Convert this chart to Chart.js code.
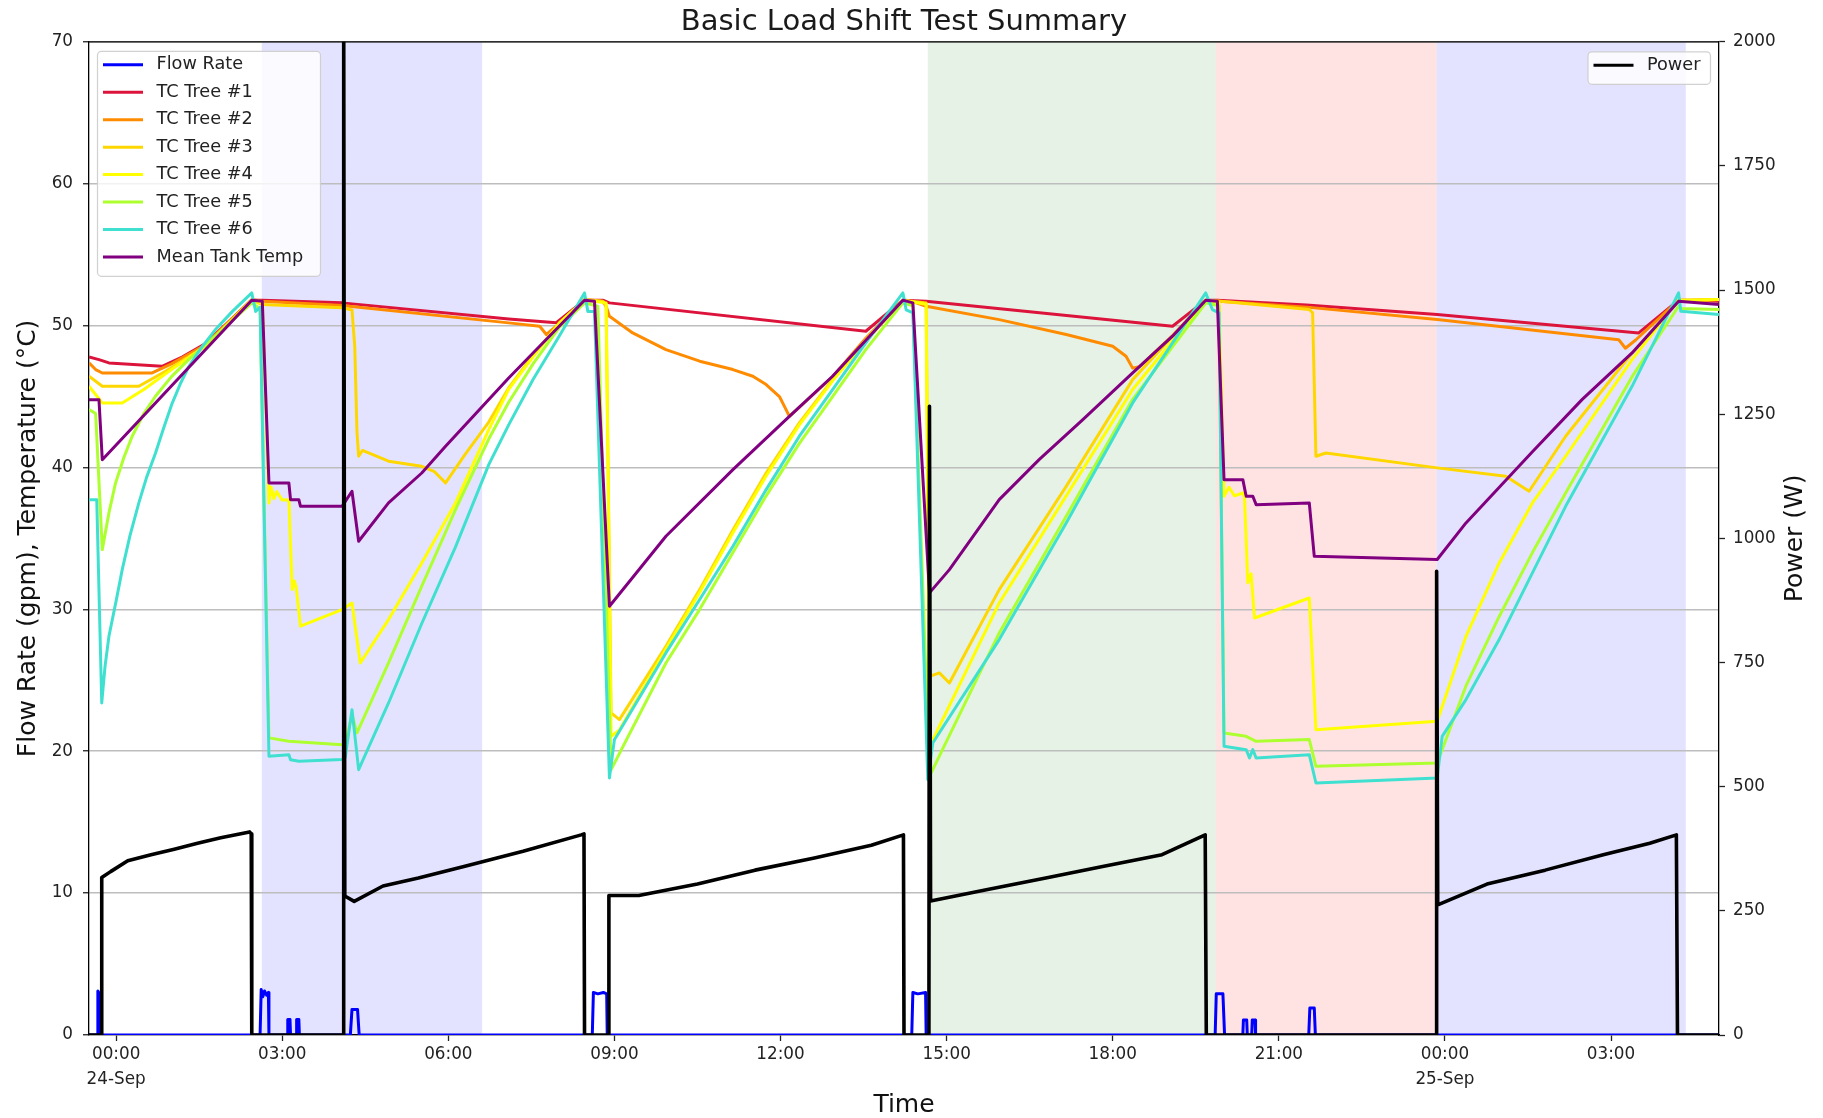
<!DOCTYPE html>
<html>
<head>
<meta charset="utf-8">
<title>Basic Load Shift Test Summary</title>
<script src="https://cdn.jsdelivr.net/npm/chart.js@4.4.1/dist/chart.umd.min.js"></script>
<style>
  html, body { margin: 0; padding: 0; background: #fff; }
  #wrap { width: 1823px; height: 1118px; }
</style>
</head>
<body>
<div id="wrap"><canvas id="chart" width="1823" height="1118"></canvas></div>
<script>
// ── Data (x = hours after 24-Sep 00:00) ──
const xTickVals   = [0, 3, 6, 9, 12, 15, 18, 21, 24, 27];
const xTickLabels = [["00:00", "24-Sep"], "03:00", "06:00", "09:00", "12:00", "15:00", "18:00", "21:00", ["00:00", "25-Sep"], "03:00"];

// shaded test periods
const spanStart = [2.63, 14.66, 19.86, 23.85];
const spanEnd   = [6.61, 19.86, 23.85, 28.35];
const spanColor = ["rgba(0,0,255,0.11)", "rgba(0,128,0,0.10)", "rgba(255,0,0,0.11)", "rgba(0,0,255,0.11)"];

const flowRate = [
  [-0.49,0],[-0.34,0],[-0.33,3.1],[-0.30,2.9],[-0.29,0],
  [2.60,0],[2.62,3.2],[2.65,2.7],[2.68,3.1],[2.72,2.8],[2.75,3.0],[2.76,0],
  [3.09,0],[3.10,1.1],[3.14,1.1],[3.15,0],
  [3.25,0],[3.26,1.1],[3.30,1.1],[3.31,0],
  [4.23,0],[4.26,1.8],[4.36,1.8],[4.39,0],
  [8.60,0],[8.62,3.0],[8.70,2.9],[8.80,3.0],[8.86,2.9],[8.87,0],
  [14.37,0],[14.39,3.0],[14.48,2.9],[14.62,3.0],[14.63,0],
  [19.85,0],[19.87,2.9],[19.99,2.9],[20.02,0],
  [20.35,0],[20.36,1.05],[20.42,1.05],[20.43,0],
  [20.51,0],[20.52,1.05],[20.57,1.05],[20.58,0],
  [21.54,0],[21.56,1.9],[21.64,1.9],[21.66,0],
  [28.95,0]
];

const tcTree1 = [
  [-0.49,47.79],[-0.31,47.6],[-0.13,47.37],[0.83,47.13],[1.2,47.8],[1.6,48.7],[2.45,51.79],
  [2.64,51.79],[4.08,51.6],[7.09,50.47],[7.95,50.2],[8.46,51.79],
  [8.79,51.79],[8.91,51.6],[13.54,49.6],[14.21,51.79],
  [14.63,51.72],[19.08,49.95],[19.68,51.79],
  [19.89,51.79],[21.5,51.45],[23.86,50.78],[27.50,49.48],[28.22,51.79],[28.95,51.71]
];

const tcTree2 = [
  [-0.49,47.37],[-0.37,46.9],[-0.25,46.66],[0.65,46.66],[1.0,47.3],[1.6,48.6],[2.45,51.83],
  [2.64,51.72],[4.08,51.41],[7.09,50.19],[7.65,49.95],[7.77,49.37],[7.95,49.95],[8.46,51.83],
  [8.79,51.7],[8.85,51.36],[8.91,50.66],[9.33,49.48],[9.93,48.31],[10.54,47.49],[11.14,46.9],[11.50,46.43],[11.74,45.84],[11.98,45.0],[12.10,44.08],[12.16,43.6],[12.94,46.4],[13.54,49.1],[14.21,51.79],
  [14.45,51.6],[14.63,51.36],[15.95,50.42],[17.16,49.37],[18.0,48.54],[18.24,47.84],[18.36,47.0],[18.48,47.1],[19.08,49.3],[19.68,51.79],
  [19.92,51.72],[21.5,51.3],[23.86,50.42],[27.14,49.0],[27.26,48.4],[27.45,49.0],[28.22,51.79],[28.95,51.83]
];

const tcTree3 = [
  [-0.49,46.43],[-0.25,45.72],[0.41,45.72],[0.9,46.8],[1.6,48.5],[2.45,51.79],
  [2.64,51.48],[4.08,51.25],[4.26,51.1],[4.31,48.5],[4.35,42.5],[4.38,40.79],[4.45,41.2],[4.92,40.44],[5.52,40.08],[5.75,39.7],[5.95,38.91],[6.3,40.9],[6.73,43.2],[7.09,45.6],[7.53,47.9],[8.01,50.2],[8.46,51.83],
  [8.79,51.72],[8.85,51.4],[8.94,22.7],[9.09,22.23],[9.93,27.4],[10.54,31.39],[11.14,35.6],[11.74,39.61],[12.34,43.14],[12.94,46.19],[13.54,49.01],[14.21,51.79],
  [14.63,51.6],[14.69,25.28],[14.87,25.52],[15.05,24.81],[15.95,31.39],[17.16,38.67],[18.36,46.19],[19.68,51.79],
  [19.95,51.72],[21.55,51.13],[21.61,50.9],[21.67,40.79],[21.85,41.02],[23.86,39.97],[25.10,39.38],[25.52,38.32],[26.18,42.2],[27.38,48.07],[28.22,51.72],[28.95,51.83]
];

const tcTree4 = [
  [-0.49,45.72],[-0.25,44.55],[0.11,44.55],[0.5,45.5],[1.0,46.9],[1.6,48.5],[2.45,51.72],
  [2.64,51.6],[2.70,45.0],[2.76,37.5],[2.80,38.6],[2.85,37.8],[2.90,38.3],[3.00,37.7],[3.12,37.73],[3.18,31.39],[3.22,32.0],[3.25,31.6],[3.33,28.81],[4.08,29.98],[4.26,30.45],[4.41,26.22],[4.92,29.28],[5.52,33.27],[6.13,37.5],[6.73,42.67],[7.09,45.5],[7.53,47.8],[8.01,50.2],[8.46,51.79],
  [8.85,51.6],[8.94,21.05],[9.09,21.5],[9.93,27.2],[10.54,31.2],[11.14,35.4],[11.74,39.4],[12.34,43.0],[12.94,46.1],[13.54,48.9],[14.21,51.79],
  [14.63,51.5],[14.69,21.05],[14.75,20.8],[15.95,30.45],[17.16,38.0],[18.36,45.49],[19.68,51.79],
  [19.92,51.6],[20.01,37.97],[20.10,38.6],[20.20,38.0],[20.35,38.2],[20.38,37.9],[20.44,31.86],[20.50,32.5],[20.56,29.39],[21.55,30.8],[21.67,21.52],[23.86,22.11],[24.38,28.1],[24.98,33.27],[25.58,37.5],[26.18,40.79],[27.38,47.6],[28.22,51.79],[28.95,51.83]
];

const tcTree5 = [
  [-0.49,44.08],[-0.37,43.8],[-0.25,34.21],[-0.13,36.8],[-0.01,38.91],[0.14,40.7],[0.29,42.2],[0.5,43.8],[0.71,45.02],[1.0,46.4],[1.31,47.6],[1.8,49.3],[2.45,51.6],
  [2.60,51.2],[2.76,20.94],[3.12,20.7],[4.08,20.46],[4.14,20.5],[4.26,22.6],[4.35,21.3],[4.92,26.22],[5.52,31.63],[6.13,37.03],[6.73,42.0],[7.09,44.6],[7.53,47.3],[8.01,49.9],[8.46,51.6],
  [8.70,51.36],[8.94,18.7],[9.93,26.22],[10.54,30.0],[11.14,34.0],[11.74,38.0],[12.34,41.7],[12.94,45.0],[13.54,48.3],[14.21,51.6],
  [14.39,51.4],[14.69,18.23],[15.95,28.34],[17.16,36.56],[18.36,44.8],[19.68,51.6],
  [19.92,51.4],[20.01,21.29],[20.41,21.05],[20.59,20.7],[21.55,20.82],[21.67,18.94],[23.86,19.17],[24.38,24.6],[24.98,29.5],[25.58,34.0],[26.18,38.2],[27.38,46.4],[28.22,51.36],[28.26,51.2],[28.95,51.13]
];

const tcTree6 = [
  [-0.49,37.73],[-0.35,37.73],[-0.26,23.4],[-0.2,26.0],[-0.13,28.1],[0.0,30.6],[0.11,32.8],[0.25,35.2],[0.41,37.5],[0.55,39.3],[0.71,41.0],[0.86,42.8],[1.01,44.5],[1.16,45.9],[1.31,47.1],[1.55,48.5],[1.79,49.7],[2.1,51.0],[2.45,52.3],
  [2.52,51.0],[2.60,51.3],[2.76,19.64],[3.12,19.76],[3.15,19.4],[3.30,19.3],[4.08,19.41],[4.14,19.6],[4.26,22.93],[4.38,18.7],[4.92,23.4],[5.52,29.0],[6.13,34.4],[6.73,40.2],[7.09,43.0],[7.53,46.2],[8.01,49.3],[8.46,52.3],
  [8.52,51.0],[8.64,51.0],[8.91,18.12],[9.00,20.82],[9.93,26.93],[10.54,30.69],[11.14,34.45],[11.74,38.44],[12.34,42.2],[12.94,45.49],[13.54,48.78],[14.21,52.3],
  [14.27,51.1],[14.39,50.9],[14.66,18.0],[14.75,20.58],[15.95,27.87],[17.16,36.09],[18.36,44.55],[19.68,52.3],
  [19.80,51.13],[19.92,50.9],[20.01,20.35],[20.41,20.11],[20.47,19.52],[20.53,20.11],[20.59,19.52],[21.55,19.76],[21.67,17.76],[23.86,18.12],[23.95,21.05],[24.38,23.64],[24.98,27.87],[25.58,32.57],[26.18,37.26],[27.38,45.72],[28.22,52.3],[28.26,51.01],[28.95,50.78]
];

const meanTank = [
  [-0.49,44.78],[-0.31,44.78],[-0.25,40.55],[2.45,51.79],[2.64,51.72],[2.76,38.91],[3.12,38.91],[3.15,37.73],[3.30,37.73],[3.33,37.26],[4.08,37.26],[4.26,38.32],[4.38,34.8],[4.92,37.5],[5.52,39.61],[5.95,41.49],[7.09,46.3],[8.46,51.79],
  [8.64,51.72],[8.91,30.22],[9.93,35.15],[11.14,39.85],[12.16,43.6],[12.94,46.43],[14.21,51.79],
  [14.39,51.6],[14.69,31.16],[15.05,32.8],[15.95,37.73],[16.67,40.55],[17.46,43.37],[18.36,46.66],[19.08,49.25],[19.68,51.79],
  [19.89,51.72],[20.01,39.14],[20.35,39.14],[20.41,37.97],[20.53,37.97],[20.59,37.38],[21.55,37.5],[21.64,33.74],[23.86,33.51],[24.38,36.09],[25.58,41.1],[26.48,44.8],[27.38,48.07],[28.22,51.72],[28.95,51.48]
];

const power = [
  [-0.49,0],[-0.27,0],[-0.26,317],[-0.10,329],[0.21,351],[0.63,363],[1.05,374],[1.47,386],[1.89,397],[2.41,409],[2.44,405],[2.45,0],
  [4.10,0],[4.11,2100],[4.13,280],[4.30,269],[4.82,300],[5.46,316],[6.30,340],[7.35,370],[8.40,403],[8.45,405],[8.46,0],
  [8.89,0],[8.90,281],[9.44,281],[10.50,304],[11.54,332],[12.59,356],[13.64,382],[14.22,403],[14.23,0],
  [14.68,0],[14.69,1266],[14.71,270],[15.74,293],[16.79,316],[17.84,340],[18.89,363],[19.67,403],[19.69,0],
  [23.84,0],[23.85,934],[23.87,262],[24.76,304],[25.81,332],[26.86,363],[27.70,386],[28.18,403],[28.20,0],
  [28.95,0]
];

// ── Helpers ──
const FONT = "'DejaVu Sans', sans-serif";
const pts = arr => arr.map(([x, y]) => ({ x, y }));

function series(label, data, color, order, axis, width) {
  return {
    label, data: pts(data), borderColor: color, backgroundColor: color,
    borderWidth: width || 3, pointRadius: 0, tension: 0, order,
    yAxisID: axis || "y", borderJoinStyle: "round", fill: false
  };
}

// ── Plugins ──
const spansPlugin = {
  id: "spans",
  beforeDraw(chart) {
    const { ctx, chartArea: a, scales: { x } } = chart;
    ctx.save();
    for (let i = 0; i < spanStart.length; i++) {
      const x0 = x.getPixelForValue(spanStart[i]);
      const x1 = x.getPixelForValue(spanEnd[i]);
      ctx.fillStyle = spanColor[i];
      ctx.fillRect(x0, a.top, x1 - x0, a.bottom - a.top);
    }
    ctx.restore();
  }
};

function drawLegendBox(ctx, sets, left, top, w, h) {
  ctx.save();
  ctx.beginPath();
  ctx.roundRect(left, top, w, h, 4);
  ctx.fillStyle = "rgba(255,255,255,0.8)";
  ctx.fill();
  ctx.strokeStyle = "rgba(204,204,204,0.9)";
  ctx.lineWidth = 1.2;
  ctx.stroke();
  ctx.font = "17.7px " + FONT;
  ctx.textBaseline = "middle";
  ctx.fillStyle = "#222";
  sets.forEach((d, i) => {
    const y = top + 13.5 + i * 27.45;
    ctx.beginPath();
    ctx.moveTo(left + 5.5, y);
    ctx.lineTo(left + 45.5, y);
    ctx.strokeStyle = d.borderColor;
    ctx.lineWidth = 3;
    ctx.stroke();
    ctx.fillText(d.label, left + 59, y);
  });
  ctx.restore();
}

const framePlugin = {
  id: "frame",
  afterDraw(chart) {
    const { ctx, chartArea: a } = chart;
    ctx.save();
    ctx.strokeStyle = "#000";
    ctx.lineWidth = 1.3;
    ctx.beginPath();
    ctx.moveTo(a.left, a.top);
    ctx.lineTo(a.right, a.top);
    ctx.stroke();

    // right axis label, reading bottom-to-top like matplotlib
    ctx.translate(1795, (a.top + a.bottom) / 2);
    ctx.rotate(-Math.PI / 2);
    ctx.font = "25px " + FONT;
    ctx.fillStyle = "#111";
    ctx.textAlign = "center";
    ctx.textBaseline = "middle";
    ctx.fillText("Power (W)", 0, 0);
    ctx.restore();

    const sets = chart.data.datasets;
    const leftSets = sets.filter(d => d.yAxisID === "y");
    const rightSets = sets.filter(d => d.yAxisID === "y1");
    drawLegendBox(ctx, leftSets, a.left + 8.5, a.top + 9.5, 223, 225);
    drawLegendBox(ctx, rightSets, a.right - 131, a.top + 10, 122.5, 32.5);
  }
};

// ── Chart ──
Chart.defaults.font.family = FONT;

const tickFont = { family: FONT, size: 16.8 };

new Chart(document.getElementById("chart"), {
  type: "line",
  data: {
    datasets: [
      series("Flow Rate", flowRate, "#0000ff", 8),
      series("TC Tree #1", tcTree1, "#dc143c", 7),
      series("TC Tree #2", tcTree2, "#ff8c00", 6),
      series("TC Tree #3", tcTree3, "#ffd700", 5),
      series("TC Tree #4", tcTree4, "#ffff00", 4),
      series("TC Tree #5", tcTree5, "#adff2f", 3),
      series("TC Tree #6", tcTree6, "#40e0d0", 2),
      series("Mean Tank Temp", meanTank, "#800080", 1),
      series("Power", power, "#000000", 0, "y1", 3.6)
    ]
  },
  options: {
    responsive: false, animation: false, devicePixelRatio: 1,
    layout: { padding: 0 },
    plugins: {
      legend: { display: false },
      tooltip: { enabled: false },
      title: {
        display: true, fullSize: false,
        text: "Basic Load Shift Test Summary",
        color: "#1a1a1a",
        font: { family: FONT, size: 29, weight: "normal" },
        padding: { top: 5, bottom: 2 }
      }
    },
    scales: {
      x: {
        type: "linear", position: "bottom",
        min: -0.49, max: 28.95,
        afterBuildTicks: s => { s.ticks = xTickVals.map(v => ({ value: v })); },
        afterFit: s => { s.height = 83; },
        ticks: {
          autoSkip: false, maxRotation: 0, padding: 1, color: "#222",
          font: { family: FONT, size: 16.8, lineHeight: 1.5 },
          callback: v => { const i = xTickVals.indexOf(v); return i >= 0 ? xTickLabels[i] : ""; }
        },
        grid: { drawOnChartArea: false, drawTicks: true, tickLength: 6, tickColor: "#222", tickWidth: 1.3 },
        border: { display: true, color: "#000", width: 1.3 },
        title: { display: true, text: "Time", color: "#111", font: { family: FONT, size: 25, lineHeight: 1.0 }, padding: { top: 0, bottom: 0 } }
      },
      y: {
        position: "left", min: 0, max: 70,
        afterFit: s => { s.width = 89; },
        ticks: { stepSize: 10, padding: 10, color: "#222", font: tickFont },
        grid: { color: "#bdbdbd", lineWidth: 1.5, drawTicks: true, tickLength: 6, tickColor: "#222", tickWidth: 1.3 },
        border: { display: true, color: "#000", width: 1.3 },
        title: { display: true, text: "Flow Rate (gpm), Temperature (°C)", color: "#111", font: { family: FONT, size: 25 }, padding: { top: 13, bottom: 0 } }
      },
      y1: {
        position: "right", min: 0, max: 2000,
        afterFit: s => { s.width = 104; },
        ticks: { stepSize: 250, padding: 8, color: "#222", font: tickFont, callback: v => String(v) },
        grid: { drawOnChartArea: false, drawTicks: true, tickLength: 6, tickColor: "#222", tickWidth: 1.3 },
        border: { display: true, color: "#000", width: 1.3 }
      }
    }
  },
  plugins: [spansPlugin, framePlugin]
});
</script>
</body>
</html>
